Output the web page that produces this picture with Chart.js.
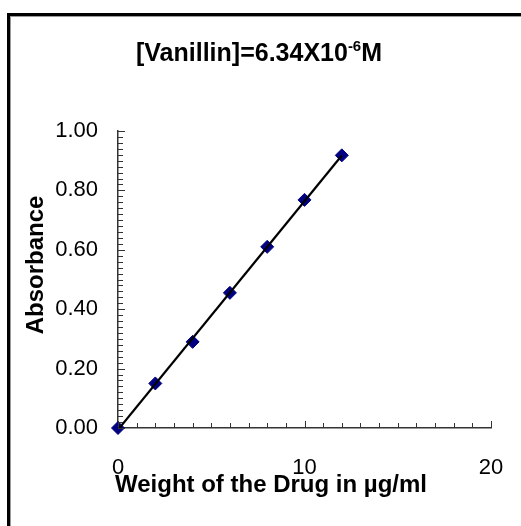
<!DOCTYPE html>
<html>
<head>
<meta charset="utf-8">
<script src="https://cdn.jsdelivr.net/npm/chart.js@4"></script>
<style>
  html, body { margin: 0; padding: 0; background: #fff; }
  #wrap { position: relative; width: 521px; height: 526px; overflow: hidden; }
  #frame {
    position: absolute; left: 7px; top: 13px; width: 600px; height: 600px;
    border-left: 3px solid #000; border-top: 3px solid #000;
    box-shadow: inset 1px 1px 0 #9a9a9a;
  }
  canvas { position: absolute; left: 0; top: 0; }
</style>
</head>
<body>
<div id="wrap">
  <div id="frame"></div>
  <canvas id="chart" width="521" height="526"></canvas>
</div>
<script>
// Weight of drug (µg/ml) vs absorbance
const weights = [0, 2, 4, 6, 8, 10, 12];
const absorbance = [0.00, 0.15, 0.29, 0.455, 0.61, 0.768, 0.918];
const yTicks = [0, 0.2, 0.4, 0.6, 0.8, 1.0];
const xTicks = [0, 10, 20];

// least-squares trend line
function fitLine(xs, ys) {
  const n = xs.length;
  const mx = xs.reduce((a, b) => a + b, 0) / n;
  const my = ys.reduce((a, b) => a + b, 0) / n;
  let sxy = 0, sxx = 0;
  xs.forEach((x, i) => { sxy += (x - mx) * (ys[i] - my); sxx += (x - mx) * (x - mx); });
  const m = sxy / sxx;
  return { m: m, b: my - m * mx };
}
const fit = fitLine(weights, absorbance);
const xFirst = weights[0], xLast = weights[weights.length - 1];
const trend = [
  { x: xFirst, y: fit.m * xFirst + fit.b },
  { x: xLast, y: fit.m * xLast + fit.b }
];

const FONT = '"Liberation Sans", Arial, sans-serif';

// inward minor ticks, axis titles and the chart heading
const decorations = {
  id: 'decorations',
  afterDatasetsDraw(chart) {
    const ctx = chart.ctx;
    const xs = chart.scales.x, ys = chart.scales.y;
    const left = xs.left, bottom = ys.bottom;
    ctx.save();
    ctx.strokeStyle = '#333';
    ctx.lineWidth = 1;
    ctx.beginPath();
    for (let v = 0; v <= 100; v += 2) {
      const py = Math.round(ys.getPixelForValue(v / 100)) + 0.5;
      const len = v % 20 === 0 ? 7 : 5;
      ctx.moveTo(left, py);
      ctx.lineTo(left + len, py);
    }
    for (let v = 0; v <= 20; v++) {
      const px = Math.round(xs.getPixelForValue(v)) + 0.5;
      const len = v % 10 === 0 ? 7 : 5;
      ctx.moveTo(px, bottom);
      ctx.lineTo(px, bottom - len);
    }
    ctx.stroke();
    ctx.restore();
  },
  afterDraw(chart) {
    const ctx = chart.ctx;
    ctx.save();
    ctx.fillStyle = '#000';
    ctx.textBaseline = 'middle';

    // heading with superscript exponent
    const main = '[Vanillin]=6.34X10';
    const sup = '-6';
    const tail = 'M';
    ctx.font = 'bold 25px ' + FONT;
    const w1 = ctx.measureText(main).width;
    const w3 = ctx.measureText(tail).width;
    ctx.font = 'bold 15px ' + FONT;
    const w2 = ctx.measureText(sup).width;
    let x = 259 - (w1 + w2 + w3) / 2;
    const y = 54;
    ctx.textAlign = 'left';
    ctx.font = 'bold 25px ' + FONT;
    ctx.fillText(main, x, y);
    x += w1;
    ctx.font = 'bold 15px ' + FONT;
    ctx.fillText(sup, x, y - 7);
    x += w2;
    ctx.font = 'bold 25px ' + FONT;
    ctx.fillText(tail, x, y);

    // x axis title
    ctx.font = 'bold 24px ' + FONT;
    ctx.textAlign = 'center';
    ctx.fillText('Weight of the Drug in µg/ml', 271, 485);

    // y axis title
    ctx.translate(36, 265);
    ctx.rotate(-Math.PI / 2);
    ctx.fillText('Absorbance', 0, 0);
    ctx.restore();
  }
};

new Chart(document.getElementById('chart'), {
  type: 'scatter',
  data: {
    datasets: [
      {
        label: 'trend',
        data: trend,
        showLine: true,
        borderColor: '#000',
        borderWidth: 2.2,
        pointRadius: 0,
        order: 0
      },
      {
        label: 'Absorbance',
        data: weights.map((w, i) => ({ x: w, y: absorbance[i] })),
        pointStyle: 'rectRot',
        pointRadius: 6.5,
        pointBackgroundColor: '#000080',
        pointBorderColor: '#000080',
        pointBorderWidth: 1,
        clip: false,
        order: 1
      }
    ]
  },
  options: {
    responsive: false,
    animation: false,
    layout: { padding: { left: 0, top: 131, right: 30, bottom: 0 } },
    plugins: {
      legend: { display: false },
      title: { display: false },
      tooltip: { enabled: false }
    },
    scales: {
      x: {
        type: 'linear',
        min: 0,
        max: 20,
        afterFit: s => { s.height = 98; s.paddingLeft = 0; s.paddingRight = 0; },
        afterBuildTicks: s => { s.ticks = xTicks.map(v => ({ value: v })); },
        grid: { display: false, drawTicks: false },
        border: { display: true, color: '#333', width: 1.5 },
        ticks: {
          padding: 27,
          color: '#000',
          font: { family: FONT, size: 22 },
          maxRotation: 0
        }
      },
      y: {
        type: 'linear',
        min: 0,
        max: 1,
        afterFit: s => { s.width = 118; s.paddingTop = 0; s.paddingBottom = 0; },
        afterBuildTicks: s => { s.ticks = yTicks.map(v => ({ value: v })); },
        grid: { display: false, drawTicks: false },
        border: { display: true, color: '#333', width: 1.5 },
        ticks: {
          padding: 20,
          color: '#000',
          font: { family: FONT, size: 22 },
          callback: v => v.toFixed(2)
        }
      }
    }
  },
  plugins: [decorations]
});
</script>
</body>
</html>
